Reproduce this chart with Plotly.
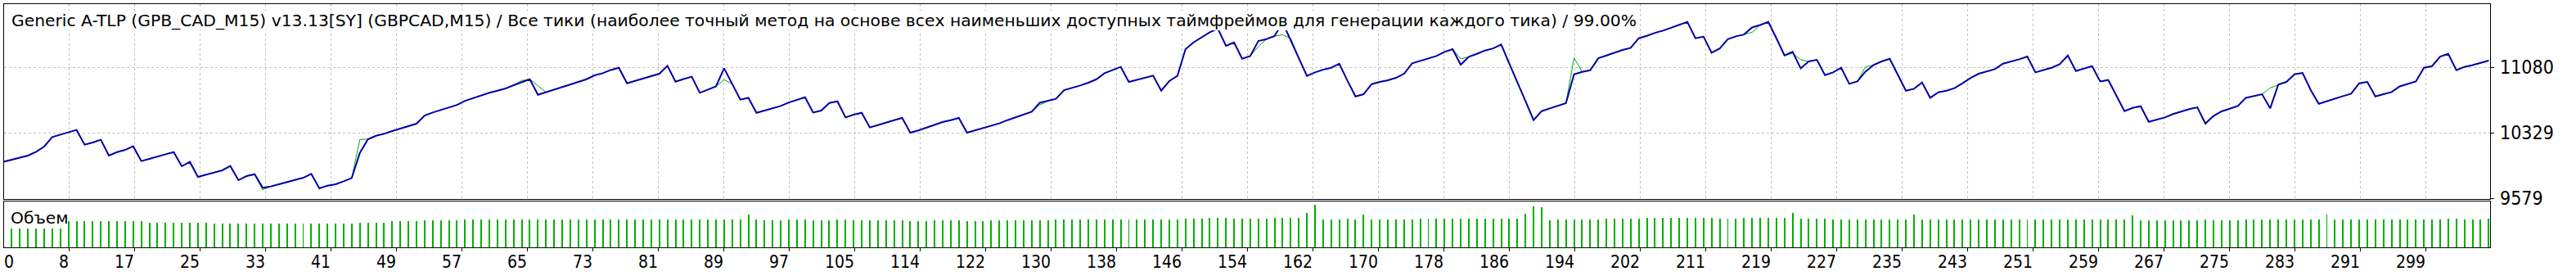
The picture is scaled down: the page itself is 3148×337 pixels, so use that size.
import plotly.graph_objects as go

# ---------------- data ----------------
# balance after each trade (trade 0 = initial deposit)
balance = [
    10000, 10023, 10045, 10070, 10113, 10173, 10282, 10310, 10338, 10363,
    10195, 10219, 10251, 10070, 10110, 10135, 10176, 10008, 10032, 10061,
    10085, 10110, 9948, 9998, 9827, 9852, 9877, 9902, 9951, 9789,
    9836, 9858, 9702, 9718, 9743, 9768, 9789, 9817, 9861, 9696,
    9727, 9743, 9777, 9814, 10101, 10257, 10297, 10319, 10350, 10381,
    10406, 10434, 10528, 10562, 10593, 10621, 10649, 10696, 10727, 10762,
    10787, 10811, 10836, 10874, 10911, 10942, 10765, 10793, 10824, 10855,
    10880, 10911, 10942, 10986, 11011, 11048, 11073, 10896, 10924, 10949,
    10974, 11005, 11095, 10914, 10945, 10971, 10787, 10827, 10861, 11067,
    10889, 10709, 10730, 10559, 10584, 10609, 10637, 10677, 10709, 10737,
    10562, 10584, 10671, 10690, 10506, 10537, 10559, 10391, 10419, 10450,
    10475, 10500, 10332, 10357, 10388, 10419, 10453, 10475, 10500, 10332,
    10357, 10388, 10413, 10438, 10475, 10506, 10537, 10572, 10674, 10693,
    10718, 10818, 10843, 10871, 10902, 10942, 11011, 11045, 11083, 10911,
    10936, 10958, 10983, 10811, 10921, 10980, 11285, 11363, 11419, 11478,
    11520, 11323, 11363, 11176, 11207, 11379, 11400, 11435, 11590, 11382,
    11179, 10980, 11020, 11051, 11073, 11120, 10927, 10746, 10771, 10886,
    10911, 10930, 10958, 11005, 11123, 11151, 11176, 11207, 11254, 11285,
    11108, 11198, 11232, 11270, 11294, 11338, 11120, 10911, 10693, 10475,
    10578, 10609, 10637, 10668, 10998, 11026, 11045, 11182, 11213, 11245,
    11276, 11301, 11410, 11438, 11472, 11497, 11531, 11566, 11597, 11410,
    11428, 11245, 11294, 11400, 11432, 11453, 11534, 11562, 11597, 11410,
    11213, 11254, 11067, 11145, 11164, 10989, 11020, 11073, 10889, 10917,
    11030, 11104, 11145, 11176, 10992, 10811, 10833, 10905, 10730, 10793,
    10811, 10840, 10896, 10958, 11005, 11030, 11058, 11120, 11142, 11170,
    11201, 11020, 11048, 11073, 11114, 11213, 11036, 11067, 11092, 10917,
    10933, 10755, 10578, 10615, 10634, 10456, 10481, 10506, 10544, 10575,
    10600, 10621, 10438, 10522, 10575, 10606, 10637, 10730, 10749, 10771,
    10609, 10880, 10911, 10998, 11014, 10821, 10662, 10693, 10718, 10749,
    10777, 10896, 10911, 10746, 10771, 10796, 10861, 10886, 10917, 11073,
    11092, 11201, 11232, 11045, 11083, 11104, 11129, 11154,
]

# equity differs from balance only at these trades
equity_deviations = {
    32: 9680, 44: 10254, 64: 10927, 66: 10868, 89: 10936, 128: 10650,
    155: 11316, 158: 11450, 159: 11410, 180: 11176, 194: 11185,
    216: 11478, 221: 11238, 222: 11167, 230: 11083, 272: 10422, 280: 10843,
}

# volume (lots) of trades 1..307
volume = [
    0.083, 0.083, 0.083, 0.083, 0.083, 0.083, 0.083, 0.118, 0.118, 0.118,
    0.118, 0.118, 0.118, 0.118, 0.118, 0.118, 0.118, 0.112, 0.112, 0.112,
    0.112, 0.112, 0.112, 0.112, 0.112, 0.108, 0.108, 0.108, 0.108, 0.108,
    0.108, 0.108, 0.108, 0.108, 0.108, 0.108, 0.108, 0.108, 0.108, 0.108,
    0.108, 0.108, 0.108, 0.112, 0.112, 0.112, 0.112, 0.118, 0.118, 0.118,
    0.118, 0.120, 0.120, 0.120, 0.120, 0.120, 0.125, 0.125, 0.125, 0.125,
    0.125, 0.125, 0.125, 0.125, 0.125, 0.125, 0.125, 0.125, 0.125, 0.125,
    0.125, 0.125, 0.125, 0.125, 0.125, 0.125, 0.124, 0.124, 0.124, 0.124,
    0.124, 0.124, 0.124, 0.124, 0.124, 0.124, 0.124, 0.124, 0.124, 0.124,
    0.124, 0.146, 0.124, 0.120, 0.120, 0.120, 0.124, 0.124, 0.124, 0.120,
    0.120, 0.120, 0.124, 0.124, 0.120, 0.120, 0.120, 0.120, 0.120, 0.120,
    0.120, 0.118, 0.118, 0.118, 0.120, 0.120, 0.120, 0.120, 0.118, 0.118,
    0.118, 0.120, 0.120, 0.120, 0.120, 0.120, 0.120, 0.120, 0.120, 0.125,
    0.125, 0.125, 0.125, 0.125, 0.125, 0.125, 0.125, 0.125, 0.125, 0.125,
    0.125, 0.125, 0.125, 0.125, 0.125, 0.127, 0.130, 0.130, 0.132, 0.132,
    0.132, 0.130, 0.130, 0.130, 0.130, 0.130, 0.132, 0.132, 0.132, 0.132,
    0.154, 0.191, 0.125, 0.125, 0.125, 0.130, 0.125, 0.146, 0.125, 0.125,
    0.125, 0.125, 0.125, 0.125, 0.130, 0.130, 0.130, 0.130, 0.130, 0.130,
    0.130, 0.130, 0.130, 0.130, 0.130, 0.130, 0.130, 0.151, 0.183, 0.179,
    0.121, 0.124, 0.124, 0.124, 0.126, 0.126, 0.126, 0.130, 0.130, 0.130,
    0.130, 0.130, 0.134, 0.134, 0.134, 0.134, 0.134, 0.134, 0.134, 0.134,
    0.134, 0.130, 0.130, 0.130, 0.134, 0.134, 0.134, 0.134, 0.134, 0.134,
    0.154, 0.130, 0.130, 0.130, 0.130, 0.126, 0.126, 0.126, 0.126, 0.126,
    0.126, 0.126, 0.126, 0.126, 0.126, 0.146, 0.126, 0.126, 0.126, 0.126,
    0.126, 0.126, 0.126, 0.126, 0.126, 0.126, 0.126, 0.126, 0.126, 0.126,
    0.126, 0.126, 0.126, 0.126, 0.126, 0.126, 0.126, 0.126, 0.126, 0.126,
    0.126, 0.126, 0.142, 0.121, 0.121, 0.121, 0.121, 0.121, 0.121, 0.121,
    0.121, 0.125, 0.121, 0.121, 0.121, 0.121, 0.125, 0.125, 0.125, 0.125,
    0.125, 0.125, 0.125, 0.125, 0.125, 0.125, 0.146, 0.125, 0.125, 0.125,
    0.125, 0.125, 0.125, 0.125, 0.125, 0.125, 0.125, 0.125, 0.125, 0.125,
    0.125, 0.129, 0.129, 0.125, 0.125, 0.125, 0.129,
]

x_tick_labels = ["0", "8", "17", "25", "33", "41", "49", "57", "65", "73",
                 "81", "89", "97", "105", "114", "122", "130", "138", "146",
                 "154", "162", "170", "178", "186", "194", "202", "211",
                 "219", "227", "235", "243", "251", "259", "267", "275",
                 "283", "291", "299"]
y_tick_vals = [9579, 10329, 11080]
y_tick_labels = ["9579", "10329", "11080"]

title_text = ("Generic A-TLP (GPB_CAD_M15) v13.13[SY] (GBPCAD,M15) / Все тики "
              "(наиболее точный метод на основе всех наименьших доступных "
              "таймфреймов для генерации каждого тика) / 99.00%")
volume_label = "Объем"

# ---------------- derived series ----------------
trades = list(range(len(balance)))
equity = [equity_deviations.get(i, v) for i, v in enumerate(balance)]
vol_x = list(range(1, len(volume) + 1))

# ---------------- layout constants ----------------
W, H = 3148, 337
ML, MR, MT, MB = 5, 105, 5, 35
PLOT_W = W - ML - MR
PLOT_H = H - MT - MB
PX_PER_TRADE = 9.892
X_MIN = 0.05
X_MAX = X_MIN + PLOT_W / PX_PER_TRADE
GRID_STEP = 80 / PX_PER_TRADE
grid_pos = [k * GRID_STEP for k in range(len(x_tick_labels))]

MAIN_DOMAIN = [(302 - 243) / PLOT_H, 1.0]
VOL_DOMAIN = [0.0, (302 - 246) / PLOT_H]

FONT_TEXT = "DejaVu Sans, sans-serif"
FONT_NUM = "DejaVu Sans Condensed, DejaVu Sans, sans-serif"
GRID_COLOR = "#c0c0c0"
BAL_COLOR = "#0000a8"
EQ_COLOR = "#00a800"
VOL_COLOR = "#00b000"

fig = go.Figure()
fig.add_trace(go.Scatter(x=trades, y=equity, mode="lines",
                         line=dict(color=EQ_COLOR, width=1),
                         xaxis="x", yaxis="y", hoverinfo="skip"))
fig.add_trace(go.Scatter(x=trades, y=balance, mode="lines",
                         line=dict(color=BAL_COLOR, width=2),
                         xaxis="x", yaxis="y", hoverinfo="skip"))
fig.add_trace(go.Bar(x=vol_x, y=volume, width=0.1,
                     marker=dict(color=VOL_COLOR, line=dict(width=0)),
                     xaxis="x2", yaxis="y2", hoverinfo="skip"))


def px_to_paper_x(px):
    return (px - ML) / PLOT_W


def px_to_paper_y(py):
    return (H - MB - py) / PLOT_H


annotations = []
annotations.append(dict(text=title_text, xref="paper", yref="paper",
                        x=px_to_paper_x(14), y=px_to_paper_y(25.5),
                        xanchor="left", yanchor="middle", showarrow=False,
                        bgcolor="white", borderpad=0, borderwidth=0,
                        font=dict(family=FONT_TEXT, size=20.3, color="black")))
annotations.append(dict(text=volume_label, xref="paper", yref="paper",
                        x=px_to_paper_x(13), y=px_to_paper_y(265.5),
                        xanchor="left", yanchor="middle", showarrow=False,
                        borderpad=0, borderwidth=0,
                        font=dict(family=FONT_TEXT, size=20.3, color="black")))
for k, lab in enumerate(x_tick_labels):
    first = (k == 0)
    annotations.append(dict(text=lab, xref="paper", yref="paper",
                            x=px_to_paper_x(ML + (grid_pos[k] - X_MIN) * PX_PER_TRADE),
                            y=px_to_paper_y(320),
                            xanchor="left" if first else "right",
                            xshift=0 if first else -1,
                            yanchor="middle", showarrow=False,
                            borderpad=0, borderwidth=0,
                            font=dict(family=FONT_NUM, size=21, color="black")))
for v, lab in zip(y_tick_vals, y_tick_labels):
    annotations.append(dict(text=lab, xref="paper", yref="y",
                            x=px_to_paper_x(3055), y=v,
                            xanchor="left", yanchor="middle", showarrow=False,
                            borderpad=0, borderwidth=0,
                            font=dict(family=FONT_NUM, size=23, color="black")))

axis_common = dict(showline=True, mirror=True, linecolor="black", linewidth=1,
                   zeroline=False, showticklabels=False)

fig.update_layout(
    width=W, height=H,
    margin=dict(l=ML, r=MR, t=MT, b=MB, pad=0),
    paper_bgcolor="white", plot_bgcolor="white",
    showlegend=False, bargap=0,
    xaxis=dict(domain=[0, 1], range=[X_MIN, X_MAX], anchor="y",
               tickvals=grid_pos, ticks="", showgrid=True,
               gridcolor=GRID_COLOR, griddash="dot", gridwidth=1,
               **axis_common),
    yaxis=dict(domain=MAIN_DOMAIN, range=[9574.2, 11800.2], anchor="x",
               side="right", tickvals=y_tick_vals, ticks="outside", ticklen=4,
               tickcolor="black", showgrid=True, gridcolor=GRID_COLOR,
               griddash="dot", gridwidth=1, **axis_common),
    xaxis2=dict(domain=[0, 1], range=[X_MIN, X_MAX], anchor="y2",
                tickvals=grid_pos, ticks="outside", ticklen=4,
                tickcolor="black", showgrid=False, **axis_common),
    yaxis2=dict(domain=VOL_DOMAIN, range=[0, 0.2059], anchor="x2",
                showgrid=False, ticks="", **axis_common),
    annotations=annotations,
)

fig.write_html("out.html")
